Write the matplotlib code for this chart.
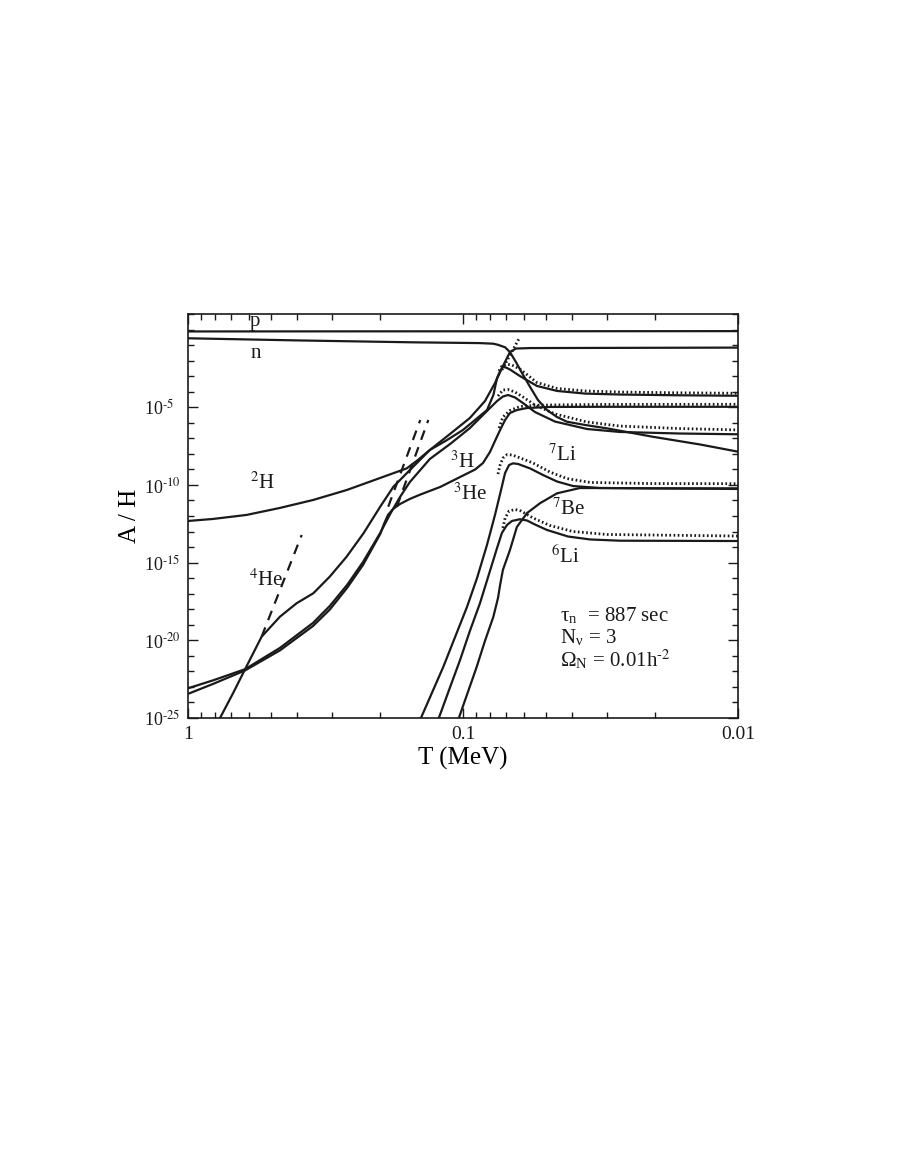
import numpy as np
import matplotlib
matplotlib.use("Agg")
import matplotlib.pyplot as plt
from matplotlib.ticker import FixedLocator, NullFormatter

plt.rcParams['font.family'] = ['Liberation Serif', 'DejaVu Serif']
plt.rcParams['mathtext.fontset'] = 'stix'

# ---- data: temperature T (MeV) and log10(A/H) ----
p_T = [1.0, 0.1, 0.01]
p_logY = [-0.12, -0.11, -0.10]

n_T = [1.0, 0.392, 0.152, 0.0867, 0.0775, 0.0746, 0.0703, 0.0675, 0.0642, 0.061,
       0.057, 0.0534, 0.0495, 0.0455, 0.0419, 0.036, 0.0299, 0.0204, 0.0137, 0.01]
n_logY = [-0.56, -0.70, -0.82, -0.87, -0.91, -0.98, -1.14, -1.45, -2.09, -2.80,
          -3.70, -4.53, -5.18, -5.63, -5.93, -6.14, -6.36, -6.90, -7.40, -7.86]

he4_T = [0.77, 0.686, 0.620, 0.540, 0.463, 0.403, 0.350, 0.305, 0.265, 0.230,
         0.200, 0.179, 0.156, 0.132, 0.1115, 0.0944, 0.0832, 0.0765, 0.0716,
         0.0675, 0.0642, 0.057, 0.0318, 0.01]
he4_logY = [-25.1, -23.41, -21.86, -19.77, -18.48, -17.62, -16.97, -15.90, -14.62,
            -13.11, -11.40, -10.11, -9.04, -7.75, -6.72, -5.69, -4.60, -3.44,
            -2.35, -1.45, -1.22, -1.19, -1.18, -1.16]
he4_nse_T = [0.540, 0.386]
he4_nse_logY = [-19.77, -13.22]
he4_dot_T = [0.0722, 0.0621]
he4_dot_logY = [-2.60, -0.48]

d_T = [1.0, 0.811, 0.612, 0.463, 0.351, 0.265, 0.200, 0.160, 0.146, 0.132, 0.1143,
       0.1, 0.0818, 0.0775, 0.0752, 0.0733, 0.0716, 0.0698, 0.0675, 0.0621, 0.0538,
       0.0455, 0.036, 0.0269, 0.0163, 0.01]
d_logY = [-12.32, -12.19, -11.93, -11.48, -10.97, -10.33, -9.55, -8.93, -8.40,
          -7.75, -7.11, -6.46, -5.18, -4.20, -3.12, -2.67, -2.41, -2.44, -2.57,
          -2.99, -3.63, -3.95, -4.12, -4.18, -4.23, -4.26]
d_dot_T = [0.074, 0.0722, 0.0698, 0.0664, 0.0621, 0.0538, 0.0455, 0.036, 0.0269,
           0.0163, 0.01]
d_dot_logY = [-2.67, -2.35, -2.22, -2.28, -2.54, -3.41, -3.79, -3.95, -4.02,
              -4.07, -4.10]

t_T = [1.0, 0.811, 0.620, 0.463, 0.351, 0.305, 0.264, 0.231, 0.200, 0.184, 0.1695,
       0.156, 0.143, 0.132, 0.1115, 0.0944, 0.0818, 0.0752, 0.0716, 0.0686,
       0.0647, 0.0605, 0.0547, 0.0463, 0.0354, 0.0269, 0.0163, 0.01]
t_logY = [-23.09, -22.58, -21.86, -20.49, -18.88, -17.79, -16.44, -14.96, -13.09,
          -11.87, -10.78, -9.81, -9.04, -8.33, -7.37, -6.34, -5.24, -4.60, -4.31,
          -4.21, -4.37, -4.73, -5.31, -5.92, -6.40, -6.59, -6.69, -6.74]
t_dot_T = [0.0746, 0.0716, 0.0686, 0.0647, 0.0605, 0.0547, 0.0463, 0.0354, 0.0269,
           0.0163, 0.01]
t_dot_logY = [-4.28, -3.89, -3.86, -4.02, -4.34, -4.86, -5.43, -5.95, -6.21,
              -6.37, -6.46]

he3_T = [1.0, 0.811, 0.620, 0.463, 0.351, 0.305, 0.264, 0.231, 0.200, 0.1938,
         0.1874, 0.1797, 0.1695, 0.156, 0.143, 0.121, 0.1025, 0.0904, 0.0846,
         0.0798, 0.0765, 0.0733, 0.0703, 0.0675, 0.0637, 0.0585, 0.0483, 0.0318,
         0.01]
he3_logY = [-23.45, -22.81, -21.94, -20.65, -19.08, -18.02, -16.63, -15.15, -13.16,
            -12.51, -11.93, -11.55, -11.23, -10.90, -10.62, -10.13, -9.49, -9.01,
            -8.59, -7.88, -7.17, -6.46, -5.82, -5.37, -5.18, -5.05, -4.98, -4.97,
            -4.97]
he3_dot_T = [0.074, 0.0716, 0.0675, 0.0621, 0.0525, 0.0318, 0.01]
he3_dot_logY = [-6.34, -5.63, -5.21, -4.95, -4.86, -4.82, -4.81]

nse_a_T = [0.187, 0.143]
nse_a_logY = [-11.40, -5.82]
nse_b_T = [0.174, 0.1337]
nse_b_logY = [-11.40, -5.82]

li7_T = [0.143, 0.118, 0.0967, 0.0889, 0.0818, 0.0765, 0.0733, 0.0703, 0.068,
         0.0658, 0.0631, 0.057, 0.0512, 0.0455, 0.0398, 0.0318, 0.0209, 0.01]
li7_logY = [-25.1, -21.72, -17.85, -15.99, -13.86, -11.93, -10.58, -9.23, -8.72,
            -8.61, -8.65, -8.94, -9.36, -9.78, -10.07, -10.20, -10.22, -10.22]
li7_dot_T = [0.0746, 0.0733, 0.0716, 0.0692, 0.0664, 0.0637, 0.0556, 0.0483,
             0.0419, 0.0345, 0.0209, 0.01]
li7_dot_logY = [-9.30, -8.72, -8.27, -8.05, -8.07, -8.18, -8.59, -9.17, -9.59,
                -9.84, -9.91, -9.92]

be7_T = [0.104, 0.0892, 0.0832, 0.0776, 0.0746, 0.0733, 0.0716, 0.0675, 0.0637,
         0.0585, 0.0525, 0.0455, 0.0376, 0.0299, 0.01]
be7_logY = [-25.1, -21.72, -20.04, -18.50, -17.28, -16.44, -15.47, -14.19, -12.71,
            -11.81, -11.18, -10.54, -10.20, -10.20, -10.26]

li6_T = [0.123, 0.1124, 0.1025, 0.0944, 0.0867, 0.0798, 0.0752, 0.0722, 0.0692,
         0.0664, 0.0621, 0.0585, 0.0547, 0.0495, 0.0415, 0.0345, 0.0269, 0.01]
li6_logY = [-25.1, -23.2, -21.27, -19.40, -17.60, -15.54, -14.06, -13.09, -12.58,
            -12.32, -12.21, -12.29, -12.55, -12.90, -13.32, -13.51, -13.59, -13.61]
li6_dot_T = [0.0716, 0.0703, 0.068, 0.0647, 0.0615, 0.0556, 0.0483, 0.0398,
             0.0299, 0.01]
li6_dot_logY = [-12.77, -12.13, -11.68, -11.58, -11.68, -12.13, -12.61, -13.0,
                -13.19, -13.29]

x_ticks = [1, 0.1, 0.01]
x_ticklabels = ['1', '0.1', '0.01']
y_major_exp = [-25, -20, -15, -10, -5]

# ---- figure ----
fig = plt.figure(figsize=(9, 11.64), dpi=100)
ax = fig.add_axes([0.2089, 0.3832, 0.6111, 0.3470])

ink = '#1a1a1a'
lw = 1.6
solid = [(p_T, p_logY), (n_T, n_logY), (he4_T, he4_logY), (d_T, d_logY),
         (t_T, t_logY), (he3_T, he3_logY), (li7_T, li7_logY),
         (be7_T, be7_logY), (li6_T, li6_logY)]
for T, L in solid:
    ax.plot(T, 10.0 ** np.array(L), color=ink, lw=lw, solid_joinstyle='round')

dotted = [(he4_dot_T, he4_dot_logY), (d_dot_T, d_dot_logY), (t_dot_T, t_dot_logY),
          (he3_dot_T, he3_dot_logY), (li7_dot_T, li7_dot_logY),
          (li6_dot_T, li6_dot_logY)]
for T, L in dotted:
    ax.plot(T, 10.0 ** np.array(L), color=ink, lw=2.0, linestyle=(0, (0.6, 0.9)))

for T, L in [(he4_nse_T, he4_nse_logY), (nse_a_T, nse_a_logY), (nse_b_T, nse_b_logY)]:
    ax.plot(T, 10.0 ** np.array(L), color=ink, lw=1.6, linestyle=(0, (4.5, 3.5)))

ax.set_xscale('log')
ax.set_yscale('log')
ax.set_xlim(1, 0.01)
ax.set_ylim(1e-25, 1e1)

ax.xaxis.set_major_locator(FixedLocator(x_ticks))
ax.set_xticklabels(x_ticklabels)
minor_x = [m * 10.0 ** e for e in (-1, -2) for m in range(2, 10)]
ax.xaxis.set_minor_locator(FixedLocator(minor_x))
ax.xaxis.set_minor_formatter(NullFormatter())

ax.yaxis.set_major_locator(FixedLocator([10.0 ** e for e in y_major_exp]))
ax.set_yticklabels(['10' + r'$^{\text{-%d}}$' % (-e) for e in y_major_exp])
ax.yaxis.set_minor_locator(FixedLocator([10.0 ** e for e in range(-25, 2)]))
ax.yaxis.set_minor_formatter(NullFormatter())

ax.tick_params(which='both', direction='in', top=True, right=True, width=1.0,
               colors=ink)
ax.tick_params(which='major', length=7)
ax.tick_params(axis='x', which='major', pad=5.5, labelsize=14)
ax.tick_params(axis='y', which='major', pad=32, labelsize=13)
ax.tick_params(which='minor', length=4.5)
for lab in ax.get_yticklabels():
    lab.set_ha('left')
for s in ax.spines.values():
    s.set_linewidth(1.2)
    s.set_color(ink)

ax.set_xlabel('T (MeV)', fontsize=18, labelpad=3)
ax.set_ylabel('A / H', fontsize=18)
ax.yaxis.label.set_va('center')
ax.yaxis.set_label_coords(-0.1055, 0.5)

lab_kw = dict(fontsize=15, ha='center', va='center', color=ink)
ax.text(0.571, 10 ** 0.55, 'p', **lab_kw)
ax.text(0.566, 10 ** -1.51, 'n', **lab_kw)
ax.text(0.538, 10 ** -9.875, r'$^{2}$H', **lab_kw)
ax.text(0.520, 10 ** -16.12, r'$^{4}$He', **lab_kw)
ax.text(0.1005, 10 ** -8.52, r'$^{3}$H', **lab_kw)
ax.text(0.0944, 10 ** -10.58, r'$^{3}$He', **lab_kw)
ax.text(0.0434, 10 ** -8.10, r'$^{7}$Li', **lab_kw)
ax.text(0.0415, 10 ** -11.55, r'$^{7}$Be', **lab_kw)
ax.text(0.0426, 10 ** -14.64, r'$^{6}$Li', **lab_kw)

ann_kw = dict(fontsize=15, ha='left', va='center', color=ink)
ann_x = 0.0444
ax.text(ann_x, 10 ** -18.43, 'τ' + r'$_{\mathregular{n}}$' + '  = 887 sec', **ann_kw)
ax.text(ann_x, 10 ** -19.85, 'N' + r'$_{\mathregular{ν}}$' + ' = 3', **ann_kw)
ax.text(ann_x, 10 ** -21.26, 'Ω' + r'$_{\mathregular{N}}$' + ' = 0.01h' + r'$^{\text{-2}}$', **ann_kw)

fig.savefig('out.png', dpi=100, facecolor='white')
